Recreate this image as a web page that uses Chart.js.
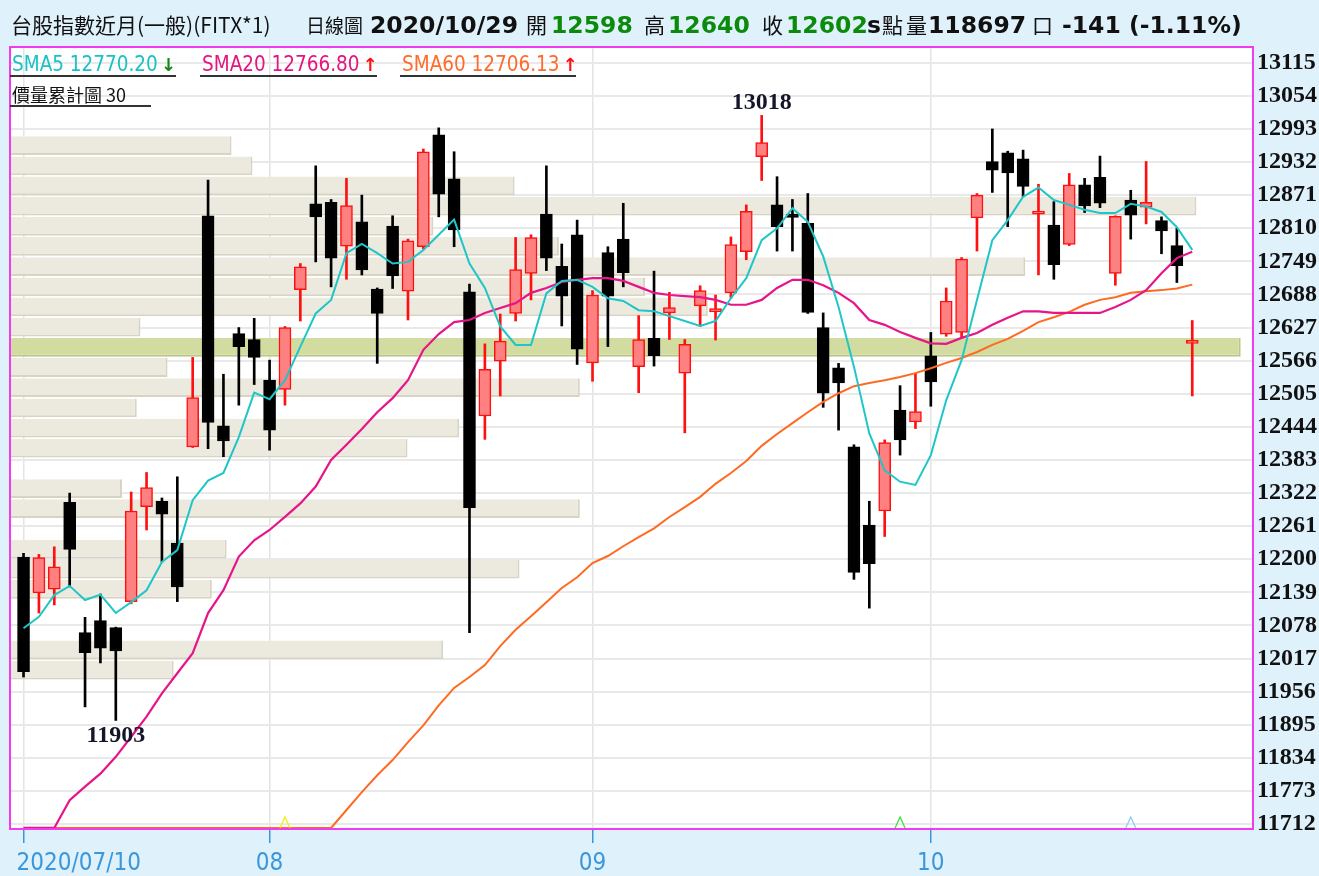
<!DOCTYPE html>
<html lang="zh-Hant">
<head>
<meta charset="utf-8">
<title>台股指數近月 日線圖</title>
<script src="https://cdn.jsdelivr.net/npm/chart.js@4.4.1/dist/chart.umd.min.js"></script>
<style>
  html, body { margin:0; padding:0; background:#dff1fb; }
  #wrap { position:relative; width:1319px; height:876px; overflow:hidden; }
  #c { position:absolute; left:0; top:0; }
  #hdr { position:absolute; left:11px; top:9px; line-height:30px; white-space:nowrap; color:#111; }
  #hdr span { display:inline-block; }
  .zh { font-family:'Noto Sans CJK TC', sans-serif; font-size:21px; }
  .num { font-family:'DejaVu Sans', sans-serif; font-weight:bold; font-size:23.5px; }
  .grn { color:#0b8a0b; }
  .lg { position:absolute; height:22px; line-height:22px; border-bottom:2px solid #333; white-space:nowrap;
        font-family:'DejaVu Sans Condensed', 'DejaVu Sans', sans-serif; font-size:20.5px; padding-left:2px; }
  .arw { font-family:'DejaVu Sans', sans-serif; font-weight:bold; font-size:18px; margin-left:3px; }
</style>
</head>
<body>
<div id="wrap">
  <canvas id="c" width="1319" height="876"></canvas>

  <div id="hdr"><span class="zh" style="width:295px">台股指數近月(一般)(FITX*1)</span><span class="zh" style="width:64px;font-size:19px">日線圖</span><span class="num" style="width:156px">2020/10/29</span><span class="zh" style="width:25px">開</span><span class="num grn" style="width:93px">12598</span><span class="zh" style="width:24px">高</span><span class="num grn" style="width:94px">12640</span><span class="zh" style="width:24px">收</span><span class="num grn" style="width:81px">12602</span><span class="num" style="width:15px">s</span><span class="zh" style="width:24px">點</span><span class="zh" style="width:22px">量</span><span class="num" style="width:104px">118697</span><span class="zh" style="width:30px">口</span><span class="num">-141 (-1.11%)</span></div>

  <div class="lg" style="left:10px;top:53px;width:164px"><span style="color:#19c2c6">SMA5 12770.20</span><span class="arw" style="color:#108a10">↓</span></div>
  <div class="lg" style="left:200px;top:53px;width:175px"><span style="color:#e4157f">SMA20 12766.80</span><span class="arw" style="color:#ff1010">↑</span></div>
  <div class="lg" style="left:400px;top:53px;width:174px"><span style="color:#ff6b2b">SMA60 12706.13</span><span class="arw" style="color:#ff1010">↑</span></div>
  <div class="lg" style="left:10px;top:83px;width:139px;font-family:'Noto Sans CJK TC',sans-serif;font-size:18px;color:#111">價量累計圖 30</div>
</div>

<script>
/* ============ 資料 (2020/07/10 ~ 2020/10/29 日K) ============ */
const openP = [12204,12138,12145,12305,12065,12087,12074,12122,12297,12307,
  12230,12407,12833,12446,12616,12605,12530,12513,12697,12855,
  12858,12777,12822,12698,12814,12694,12776,12982,12901,12693,
  12464,12565,12653,12727,12836,12740,12798,12562,12765,12790,
  12555,12607,12654,12543,12667,12656,12691,12767,12942,12853,
  12836,12819,12627,12553,12407,12263,12289,12475,12453,12575,
  12615,12618,12829,12933,12949,12938,12836,12816,12780,12890,
  12904,12727,12862,12849,12824,12778,12598];
const highP = [12211,12209,12223,12322,12093,12136,12075,12324,12360,12313,
  12352,12572,12899,12541,12627,12644,12567,12629,12745,12925,
  12863,12902,12871,12700,12833,12790,12956,12995,12951,12707,
  12597,12652,12793,12798,12925,12781,12825,12695,12776,12856,
  12649,12731,12692,12605,12704,12687,12794,12853,13018,12905,
  12863,12874,12654,12561,12411,12307,12420,12520,12543,12618,
  12700,12756,12874,12993,12952,12954,12891,12859,12911,12902,
  12943,12833,12880,12933,12831,12810,12640];
const lowP = [11983,12101,12116,12149,11928,12009,11903,12118,12254,12195,
  12122,12406,12404,12389,12484,12522,12401,12484,12639,12748,
  12702,12716,12724,12561,12699,12641,12772,12831,12776,12065,
  12421,12501,12639,12678,12732,12630,12559,12528,12592,12702,
  12507,12556,12605,12433,12629,12604,12681,12752,12898,12768,
  12768,12653,12480,12438,12163,12110,12242,12392,12441,12482,
  12611,12607,12768,12876,12813,12868,12724,12716,12778,12839,
  12848,12705,12790,12818,12763,12710,12501];
const closeP = [11993,12203,12186,12218,12028,12036,12031,12289,12332,12283,
  12149,12498,12452,12418,12592,12572,12438,12627,12739,12831,
  12755,12852,12733,12653,12722,12787,12951,12873,12807,12295,
  12550,12602,12734,12793,12755,12685,12587,12687,12685,12728,
  12605,12575,12664,12596,12695,12662,12780,12841,12968,12813,
  12830,12655,12506,12525,12176,12192,12415,12420,12472,12527,
  12676,12753,12871,12917,12912,12887,12838,12743,12890,12851,
  12856,12832,12834,12858,12805,12741,12602];

const sma5 = [12073,12094,12134,12151,12125,12135,12101,12121,12143,12195,
  12217,12309,12345,12359,12425,12507,12495,12530,12592,12653,
  12678,12764,12781,12764,12745,12748,12770,12798,12826,12745,
  12700,12629,12595,12595,12690,12713,12715,12702,12681,12676,
  12659,12657,12648,12639,12630,12639,12681,12718,12788,12810,
  12847,12822,12758,12665,12555,12432,12364,12343,12337,12392,
  12493,12567,12678,12788,12825,12868,12885,12862,12853,12844,
  12838,12838,12855,12850,12840,12812,12770.20];
const sma20 = [null,null,null,11756,11781,11805,11836,11873,11910,11953,
  11990,12027,12101,12143,12205,12235,12254,12278,12303,12334,
  12383,12411,12440,12471,12497,12530,12586,12615,12637,12641,
  12654,12663,12672,12691,12700,12711,12715,12718,12718,12713,
  12702,12691,12687,12685,12683,12678,12669,12669,12678,12700,
  12715,12715,12705,12691,12672,12641,12632,12619,12608,12598,
  12597,12608,12617,12632,12645,12657,12657,12654,12654,12654,
  12654,12665,12678,12696,12727,12755,12766.80];
const sma60 = [null,null,null,null,null,null,null,null,null,null,
  null,null,null,null,null,null,null,null,null,null,
  null,11738,11771,11802,11830,11863,11894,11931,11963,11983,
  12005,12040,12070,12095,12121,12147,12167,12193,12206,12224,
  12241,12257,12278,12296,12315,12339,12359,12381,12409,12431,
  12451,12471,12490,12506,12519,12525,12530,12536,12543,12552,
  12562,12571,12582,12595,12606,12621,12637,12646,12656,12669,
  12678,12683,12691,12694,12696,12699,12706.13];

// 價量累計圖：30 個價格區間 (由低到高) 的相對量
const profileVol = [0,0,13.3,35.2,0,0,16.4,41.4,17.6,0,
  46.3,9.1,0,32.3,36.5,10.3,46.3,12.8,100,10.6,
  56.7,51.6,82.5,44.6,34.4,96.4,41,19.7,18,0];

const monthIdx = [0, 16, 37, 59];
const monthLabels = ["2020/07/10", "08", "09", "10"];
const priceTicks = [11712,11773,11834,11895,11956,12017,12078,12139,12200,12261,12322,12383,
  12444,12505,12566,12627,12688,12749,12810,12871,12932,12993,13054,13115];

const signalIdx = [17, 57, 72];
const signalColor = ["#f2ee00", "#33e033", "#8ccbee"];

/* ============ 軸範圍 ============ */
const Y_MIN = 11703, Y_MAX = 13144;
const X_MIN = -0.88, X_MAX = 79.95;
const SMA_FLOOR = Y_MIN + 2;   // 均線尚未成形時軟體畫在最底
const PROFILE_MAX = 101;

/* ============ 組資料 ============ */
const idx = closeP.map((_, i) => i);
const isUp = idx.map(i => closeP[i] >= openP[i]);
const bodyData = idx.map(i => ({ x: i, y: [openP[i], closeP[i]] }));
const wickData = idx.map(i => ({ x: i, y: [lowP[i], highP[i]] }));

const lo = Math.min(...lowP), hi = Math.max(...highP);
const band = (hi - lo) / profileVol.length;
const profileData = profileVol.map((v, k) => ({ x: v, y: lo + (k + 0.5) * band }));
const maxVol = Math.max(...profileVol);

const lineData = arr => arr.map((v, i) => ({ x: i, y: v == null ? SMA_FLOOR : v }));

/* ============ plugins ============ */
const bgPlugin = {
  id: "bg",
  beforeDraw(chart) {
    const { ctx, chartArea: a } = chart;
    ctx.save();
    ctx.fillStyle = "#dff1fb";
    ctx.fillRect(0, 0, chart.width, chart.height);
    ctx.fillStyle = "#ffffff";
    ctx.fillRect(a.left, a.top, a.right - a.left, a.bottom - a.top);
    ctx.restore();
  }
};

const overlayPlugin = {
  id: "overlay",
  afterDraw(chart) {
    const { ctx, chartArea: a, scales } = chart;
    const xs = scales.x, ys = scales.y;
    ctx.save();

    // 訊號三角形
    ctx.lineWidth = 1.2;
    signalIdx.forEach((s, k) => {
      const x = xs.getPixelForValue(s);
      ctx.strokeStyle = signalColor[k];
      ctx.beginPath();
      ctx.moveTo(x - 5, a.bottom - 1);
      ctx.lineTo(x, a.bottom - 12);
      ctx.lineTo(x + 5, a.bottom - 1);
      ctx.stroke();
    });

    // 最高 / 最低標示
    ctx.fillStyle = "#15152a";
    ctx.font = "bold 24px 'Liberation Serif', serif";
    ctx.textAlign = "center";
    const iHi = highP.indexOf(hi), iLo = lowP.indexOf(lo);
    ctx.textBaseline = "bottom";
    ctx.fillText(String(hi), xs.getPixelForValue(iHi), ys.getPixelForValue(hi) - 1);
    ctx.textBaseline = "top";
    ctx.fillText(String(lo), xs.getPixelForValue(iLo), ys.getPixelForValue(lo) + 3);

    // 外框
    ctx.strokeStyle = "#f03cf0";
    ctx.lineWidth = 2;
    ctx.strokeRect(a.left, a.top, a.right - a.left, a.bottom - a.top);

    // 月份標籤
    ctx.fillStyle = "#3b97db";
    ctx.font = "24px 'Liberation Sans Narrow', 'DejaVu Sans Condensed', sans-serif";
    ctx.textBaseline = "alphabetic";
    monthIdx.forEach((m, k) => {
      const x = xs.getPixelForValue(m);
      if (k === 0) { ctx.textAlign = "left"; ctx.fillText(monthLabels[k], x - 7, 870); }
      else { ctx.textAlign = "center"; ctx.fillText(monthLabels[k], x, 870); }
    });
    ctx.restore();
  }
};

/* ============ 圖表 ============ */
new Chart(document.getElementById("c"), {
  data: {
    datasets: [
      { type: "line", label: "SMA5", data: lineData(sma5), borderColor: "#1fc6c8", borderWidth: 2,
        pointRadius: 0, tension: 0, order: 1 },
      { type: "line", label: "SMA20", data: lineData(sma20), borderColor: "#e6158a", borderWidth: 2.2,
        pointRadius: 0, tension: 0, order: 2 },
      { type: "line", label: "SMA60", data: lineData(sma60), borderColor: "#ff6a22", borderWidth: 2,
        pointRadius: 0, tension: 0, order: 3 },
      { type: "bar", label: "body", data: bodyData, grouped: false, order: 4,
        backgroundColor: isUp.map(u => u ? "#ff8080" : "#000000"),
        borderColor: isUp.map(u => u ? "#ff1010" : "#000000"),
        borderWidth: 1.5, borderSkipped: false, barThickness: 12, minBarLength: 3 },
      { type: "bar", label: "wick", data: wickData, grouped: false, order: 5,
        backgroundColor: isUp.map(u => u ? "#ff1010" : "#000000"),
        borderWidth: 0, barThickness: 2 },
      { type: "bar", label: "profile", indexAxis: "y", data: profileData, xAxisID: "xv", yAxisID: "yp",
        grouped: false, order: 10,
        backgroundColor: profileVol.map(v => v === maxVol ? "#d3dca0" : "#ece9df"),
        borderColor: profileVol.map(v => v === maxVol ? "#bcc588" : "#d8d3c3"),
        borderWidth: { top: 0, left: 0, right: 2, bottom: 2 }, borderSkipped: false,
        barPercentage: 0.93, categoryPercentage: 1 }
    ]
  },
  options: {
    responsive: false,
    animation: false,
    devicePixelRatio: 1,
    layout: { padding: { left: 10, top: 47, right: 0, bottom: 0 } },
    plugins: { legend: { display: false }, tooltip: { enabled: false } },
    scales: {
      x: {
        type: "linear", min: X_MIN, max: X_MAX, offset: false,
        grid: { offset: false, color: "#e4e4e4", lineWidth: 1.5, tickLength: 14, tickColor: "#3b97db", tickWidth: 1.5 },
        border: { display: false },
        ticks: { display: false },
        afterBuildTicks: s => { s.ticks = monthIdx.map(v => ({ value: v })); },
        afterFit: s => { s.height = 47; }
      },
      y: {
        type: "linear", position: "right", min: Y_MIN, max: Y_MAX, offset: false,
        grid: { offset: false, color: "#e9e9e9", lineWidth: 2, drawTicks: false },
        border: { display: false },
        ticks: { padding: 4, color: "#111", font: { family: "'Liberation Serif', serif", size: 24, weight: "bold" },
                 callback: v => String(v) },
        afterBuildTicks: s => { s.ticks = priceTicks.map(v => ({ value: v })); },
        afterFit: s => { s.width = 66; }
      },
      xv: { type: "linear", display: false, min: 0, max: PROFILE_MAX, offset: false },
      yp: { type: "linear", display: false, min: Y_MIN, max: Y_MAX, offset: false, grid: { offset: false } }
    }
  },
  plugins: [bgPlugin, overlayPlugin]
});
</script>
</body>
</html>
